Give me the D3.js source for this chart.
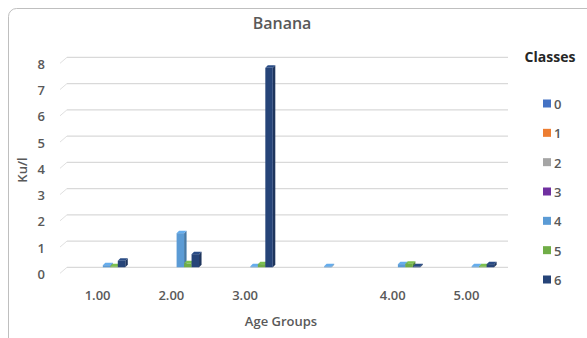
<!DOCTYPE html>
<html><head><meta charset="utf-8">
<script src="https://cdn.jsdelivr.net/npm/d3@7"></script>
<style>
body{margin:0;background:#fff;}
text{font-family:"Open Sans","Noto Sans",sans-serif;}
</style></head>
<body><svg id="c" width="587" height="338"></svg>
<script>
const groups = ["1.00","2.00","3.00","","4.00","5.00"];
const classes = ["0","1","2","3","4","5","6"];
const colors = ["#4472C4","#ED7D31","#A5A5A5","#7030A0","#5B9BD5","#70AD47","#264478"];
// values per class, one per age group
const class0 = [0,0,0,0,0,0];
const class1 = [0,0,0,0,0,0];
const class2 = [0,0,0,0,0,0];
const class3 = [0,0,0,0,0,0];
const class4 = [0.08,1.3,0.02,0.03,0.12,0.03];
const class5 = [0.02,0.15,0.12,0,0.14,0.03];
const class6 = [0.25,0.5,7.6,0,0.03,0.12];
const yTicks = [0,1,2,3,4,5,6,7,8];
const series = [class0,class1,class2,class3,class4,class5,class6];

(function(){
const svg = d3.select("#c");
svg.append("rect").attr("x",8.5).attr("y",8.5).attr("width",600).attr("height",360)
  .attr("rx",8).attr("fill","#fff").attr("stroke","#bfbfbf");

const pl=67, pr=508, pt=57.3, pb=267.3;
const x = d3.scaleBand().domain(d3.range(groups.length)).range([pl,500]).paddingInner(0.29).paddingOuter(0.08);
const xi = d3.scaleBand().domain(d3.range(classes.length)).range([0,x.bandwidth()]);
const y = d3.scaleLinear().domain([0,8]).range([pb,pt]);

const g = svg.append("g");
g.selectAll("line.grid").data(yTicks).join("line").attr("class","grid")
  .attr("x1",pl).attr("x2",pr)
  .attr("y1",d=>y(d)).attr("y2",d=>y(d))
  .attr("stroke","#d9d9d9").attr("stroke-width",1.2);
g.selectAll("line.stub").data(yTicks).join("line").attr("class","stub")
  .attr("x1",pl-7).attr("x2",pl)
  .attr("y1",d=>y(d)+6).attr("y2",d=>y(d))
  .attr("stroke","#e0e0e0").attr("stroke-width",1);

const yAxis = d3.axisLeft(y).tickValues(yTicks).tickSize(0).tickPadding(0).tickFormat(d3.format("d"));
const ya = svg.append("g").attr("transform",`translate(45,7)`).call(yAxis);
ya.select(".domain").remove();
ya.selectAll("text").attr("fill","#595959").attr("font-size",13).attr("font-weight",600);

const xAxis = d3.axisBottom(x).tickSize(0).tickFormat(i=>groups[i]);
const xa = svg.append("g").attr("transform",`translate(-1.5,${pb+20})`).call(xAxis);
xa.select(".domain").remove();
xa.selectAll("text").attr("fill","#595959").attr("font-size",13).attr("font-weight",600);

const depth = 2.5;
const flat = [];
series.forEach((vals,ci)=>vals.forEach((v,gi)=>{ if(v>0) flat.push({ci,gi,v}); }));
const bars = svg.append("g");
const bw = xi.bandwidth();
flat.forEach(d=>{
  const bx = x(d.gi)+xi(d.ci);
  const h = Math.max(y(0)-y(d.v),1);
  const c = d3.color(colors[d.ci]);
  bars.append("path")
    .attr("d",`M${bx+bw},${y(0)-h} l${depth},${-depth} l0,${h} l${-depth},${depth} z`)
    .attr("fill",c.darker(0.7));
  bars.append("path")
    .attr("d",`M${bx},${y(0)-h} l${depth},${-depth} l${bw},0 l${-depth},${depth} z`)
    .attr("fill",c.brighter(0.3));
  bars.append("rect").attr("x",bx).attr("y",y(0)-h).attr("width",bw).attr("height",h)
    .attr("fill",colors[d.ci]);
});

svg.append("text").attr("x",282).attr("y",29).attr("text-anchor","middle")
  .attr("font-size",16).attr("font-weight",600).attr("fill","#595959").text("Banana");
svg.append("text").attr("x",281).attr("y",326).attr("text-anchor","middle")
  .attr("font-size",13).attr("font-weight",600).attr("fill","#595959").text("Age Groups");
svg.append("text").attr("transform","translate(27,170) rotate(-90)").attr("text-anchor","middle")
  .attr("font-size",13).attr("font-weight",600).attr("fill","#595959").text("Ku/l");

svg.append("text").attr("x",550).attr("y",62).attr("text-anchor","middle")
  .attr("font-size",14).attr("font-weight",700).attr("fill","#262626").text("Classes");
const lg = svg.append("g");
const ly = d3.scaleLinear().domain([0,6]).range([104,280]);
classes.forEach((c,i)=>{
  lg.append("rect").attr("x",543).attr("y",ly(i)-4.5).attr("width",8).attr("height",8).attr("fill",colors[i]);
  lg.append("text").attr("x",554).attr("y",ly(i)+5).attr("font-size",13).attr("font-weight",600)
    .attr("fill","#595959").text(c);
});
})();
</script></body></html>
